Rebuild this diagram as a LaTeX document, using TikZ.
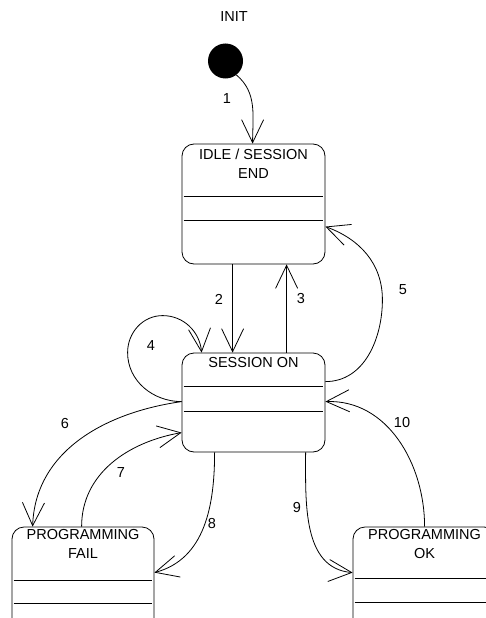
\documentclass[tikz,border=0pt]{standalone}
\usepackage{fontspec}
\setmainfont{Liberation Sans}
\usetikzlibrary{arrows.meta,calc}

\tikzset{
  lbl/.style={font=\fontsize{14.5}{19}\selectfont, inner sep=0pt, align=center},
  state/.style={draw, line width=0.8pt, rounded corners=12pt, inner sep=0pt},
  sep/.style={line width=0.8pt},
  trans/.style={line width=0.8pt, -{Straight Barb[length=23pt,width=22pt]}},
}

\begin{document}
\begin{tikzpicture}[x=1pt,y=1pt]
  \clip (0,0) rectangle (486,-618);
  \fill[white] (0,0) rectangle (486,-618);

  % initial pseudo-state
  \node[lbl] (initlbl) at (234,-17) {INIT};
  \node[circle, fill=black, minimum size=35pt, inner sep=0pt] (init) at (225.5,-61) {};

  % states
  \node[state, minimum width=143pt, minimum height=120pt] (idle) at (253.5,-204) {};
  \node[lbl, anchor=north] (idlet) at ([yshift=-5pt]idle.north) {IDLE / SESSION\\END};
  \draw[sep] ([xshift=2pt,yshift=-53pt]idle.north west) -- ([xshift=-2pt,yshift=-53pt]idle.north east);
  \draw[sep] ([xshift=2pt,yshift=-77pt]idle.north west) -- ([xshift=-2pt,yshift=-77pt]idle.north east);

  \node[state, minimum width=143pt, minimum height=99pt] (sess) at (253.5,-402.5) {};
  \node[lbl, anchor=north] (sesst) at ([yshift=-5pt]sess.north) {SESSION ON};
  \draw[sep] ([xshift=2pt,yshift=-34pt]sess.north west) -- ([xshift=-2pt,yshift=-34pt]sess.north east);
  \draw[sep] ([xshift=2pt,yshift=-59pt]sess.north west) -- ([xshift=-2pt,yshift=-59pt]sess.north east);

  \node[state, minimum width=142pt, minimum height=120pt] (pfail) at (83,-587) {};
  \node[lbl, anchor=north] (pfailt) at ([yshift=-3pt]pfail.north) {PROGRAMMING\\FAIL};
  \draw[sep] ([xshift=2pt,yshift=-54pt]pfail.north west) -- ([xshift=-2pt,yshift=-54pt]pfail.north east);
  \draw[sep] ([xshift=2pt,yshift=-77pt]pfail.north west) -- ([xshift=-2pt,yshift=-77pt]pfail.north east);

  \node[state, minimum width=143pt, minimum height=120pt] (pok) at (424.5,-587) {};
  \node[lbl, anchor=north] (pokt) at ([yshift=-3pt]pok.north) {PROGRAMMING\\OK};
  \draw[sep] ([xshift=2pt,yshift=-52pt]pok.north west) -- ([xshift=-2pt,yshift=-52pt]pok.north east);
  \draw[sep] ([xshift=2pt,yshift=-76pt]pok.north west) -- ([xshift=-2pt,yshift=-76pt]pok.north east);

  % transitions
  \draw[trans] (init.-52) to[out=-40,in=90] ([xshift=71pt]idle.north west);
  \draw[trans] ([xshift=51pt]idle.south west) -- ([xshift=51pt]sess.north west);
  \draw[trans] ([xshift=105pt]sess.north west) -- ([xshift=105pt]idle.south west);
  \draw[trans] ([yshift=-49pt]sess.north west) to[out=180,in=270] ++(-54,49)
      to[out=90,in=180] ++(35,37) to[out=0,in=95] ([xshift=20pt]sess.north west);
  \draw[trans] ([yshift=-29pt]sess.north east) to[out=0,in=270] ++(57,82)
      to[out=90,in=-20] ([yshift=-83pt]idle.north east);
  \draw[trans] ([yshift=-49pt]sess.north west) to[out=188,in=88] ([xshift=21pt]pfail.north west);
  \draw[trans] ([xshift=70pt]pfail.north west) to[out=90,in=190] ([yshift=-80pt]sess.north west);
  \draw[trans] ([xshift=33pt]sess.south west) to[out=270,in=15] ([yshift=-46pt]pfail.north east);
  \draw[trans] ([xshift=124pt]sess.south west) to[out=270,in=175] ([yshift=-46pt]pok.north west);
  \draw[trans] ([xshift=72pt]pok.north west) to[out=90,in=2] ([yshift=-49pt]sess.north east);

  % transition numbers
  \node[lbl] (n1) at (227,-99) {1};
  \node[lbl] (n2) at (219,-299) {2};
  \node[lbl] (n3) at (301,-299) {3};
  \node[lbl] (n4) at (151,-346) {4};
  \node[lbl] (n5) at (403,-290) {5};
  \node[lbl] (n6) at (65,-424) {6};
  \node[lbl] (n7) at (121,-473) {7};
  \node[lbl] (n8) at (212,-524) {8};
  \node[lbl] (n9) at (297,-508) {9};
  \node[lbl] (n10) at (402,-423) {10};
\end{tikzpicture}
\end{document}
